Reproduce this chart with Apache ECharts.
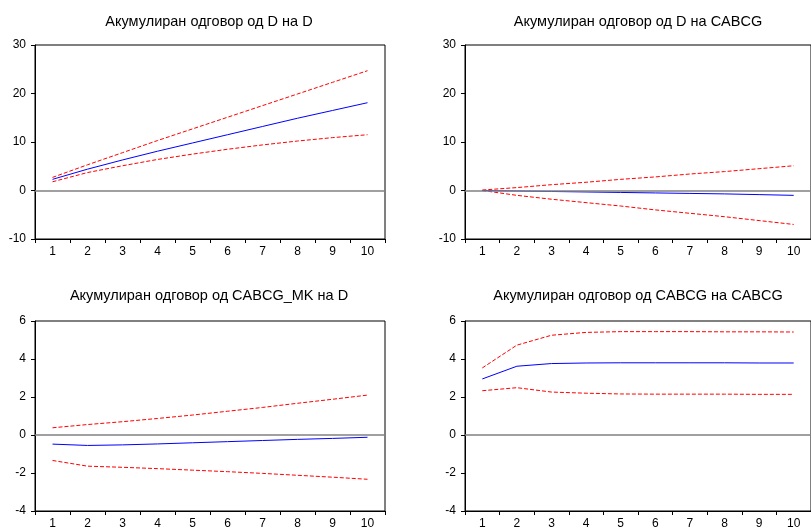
<!DOCTYPE html>
<html>
<head>
<meta charset="utf-8">
<script src="https://cdn.jsdelivr.net/npm/echarts@6/dist/echarts.min.js"></script>
<style>
  html, body { margin: 0; padding: 0; background: #fff; }
  #main { width: 811px; height: 530px; }
</style>
</head>
<body>
<div id="main"></div>
<script>
var periods = ['1', '2', '3', '4', '5', '6', '7', '8', '9', '10'];

var titles = [
  'Акумулиран одговор од D на D',
  'Акумулиран одговор од D на CABCG',
  'Акумулиран одговор од CABCG_MK на D',
  'Акумулиран одговор од CABCG на CABCG'
];

// D на D
var dd = [2.3, 4.4, 6.3, 8.1, 9.8, 11.5, 13.2, 14.9, 16.5, 18.1];
var ddUp = [2.7, 5.3, 7.8, 10.3, 12.7, 15.1, 17.5, 19.9, 22.3, 24.7];
var ddLo = [1.8, 3.7, 5.1, 6.4, 7.5, 8.5, 9.4, 10.2, 10.9, 11.5];

// D на CABCG
var dc = [0, -0.1, -0.2, -0.3, -0.4, -0.5, -0.6, -0.7, -0.85, -1.0];
var dcUp = [0.1, 0.6, 1.2, 1.7, 2.3, 2.8, 3.4, 3.9, 4.5, 5.1];
var dcLo = [0, -1.0, -1.8, -2.5, -3.2, -4.0, -4.7, -5.4, -6.2, -7.0];

// CABCG_MK на D
var md = [-0.48, -0.55, -0.52, -0.47, -0.41, -0.35, -0.29, -0.23, -0.18, -0.12];
var mdUp = [0.38, 0.55, 0.7, 0.87, 1.05, 1.25, 1.45, 1.67, 1.88, 2.1];
var mdLo = [-1.34, -1.64, -1.70, -1.77, -1.85, -1.93, -2.02, -2.12, -2.22, -2.33];

// CABCG на CABCG
var cc = [2.95, 3.62, 3.76, 3.79, 3.80, 3.80, 3.80, 3.80, 3.79, 3.79];
var ccUp = [3.53, 4.73, 5.25, 5.40, 5.44, 5.44, 5.44, 5.43, 5.43, 5.42];
var ccLo = [2.33, 2.49, 2.26, 2.20, 2.16, 2.15, 2.15, 2.15, 2.14, 2.14];

var yRanges = [[-10, 30, 10], [-10, 30, 10], [-4, 6, 2], [-4, 6, 2]];
var panelData = [[dd, ddUp, ddLo], [dc, dcUp, dcLo], [md, mdUp, mdLo], [cc, ccUp, ccLo]];

var font = 'Liberation Sans, Arial, sans-serif';
var boxes = [
  { left: 35, top: 45, width: 350, height: 194, ty: 9 },
  { left: 465, top: 45, width: 350, height: 194, ty: 9 },
  { left: 35, top: 321, width: 350, height: 195, ty: 283 },
  { left: 465, top: 321, width: 350, height: 195, ty: 283 }
];

var chart = echarts.init(document.getElementById('main'), null, { renderer: 'canvas' });

var option = {
  backgroundColor: '#fff',
  animation: false,
  title: [],
  grid: [],
  xAxis: [],
  yAxis: [],
  series: []
};

for (var i = 0; i < 4; i++) {
  var b = boxes[i];
  var centre = i % 2 == 0 ? 204 : 633;
  option.title.push({
    text: titles[i],
    left: centre,
    top: b.ty,
    textAlign: 'center',
    textStyle: { fontFamily: font, fontSize: 14.5, fontWeight: 'normal', color: '#000' }
  });
  option.grid.push({
    left: b.left, top: b.top, width: b.width, height: b.height,
    show: true, borderColor: '#000', borderWidth: 1, backgroundColor: '#fff'
  });
  option.xAxis.push({
    type: 'category',
    gridIndex: i,
    data: periods,
    boundaryGap: true,
    axisLine: { onZero: false, lineStyle: { color: '#000', width: 1 } },
    axisTick: { show: true, length: 4, lineStyle: { color: '#000' } },
    axisLabel: { fontFamily: font, fontSize: 12, color: '#000', margin: 7, interval: 0 },
    splitLine: { show: false }
  });
  option.yAxis.push({
    type: 'value',
    gridIndex: i,
    min: yRanges[i][0],
    max: yRanges[i][1],
    interval: yRanges[i][2],
    axisLine: { show: true, lineStyle: { color: '#000', width: 1 } },
    axisTick: { show: true, length: 4, lineStyle: { color: '#000' } },
    axisLabel: { fontFamily: font, fontSize: 12, color: '#000', margin: 9 },
    splitLine: { show: false }
  });
  var d = panelData[i];
  option.series.push({
    type: 'line', xAxisIndex: i, yAxisIndex: i, data: d[0],
    symbol: 'none', lineStyle: { color: '#0000ff', width: 1 },
    markLine: {
      silent: true, symbol: 'none', label: { show: false },
      lineStyle: { color: '#808080', width: 1.5, type: 'solid' },
      data: [{ yAxis: 0 }]
    },
    z: 3
  });
  option.series.push({
    type: 'line', xAxisIndex: i, yAxisIndex: i, data: d[1],
    symbol: 'none', lineStyle: { color: '#ff0000', width: 1, type: [4, 2] }, z: 2
  });
  option.series.push({
    type: 'line', xAxisIndex: i, yAxisIndex: i, data: d[2],
    symbol: 'none', lineStyle: { color: '#ff0000', width: 1, type: [4, 2] }, z: 2
  });
}

chart.setOption(option);
</script>
</body>
</html>
